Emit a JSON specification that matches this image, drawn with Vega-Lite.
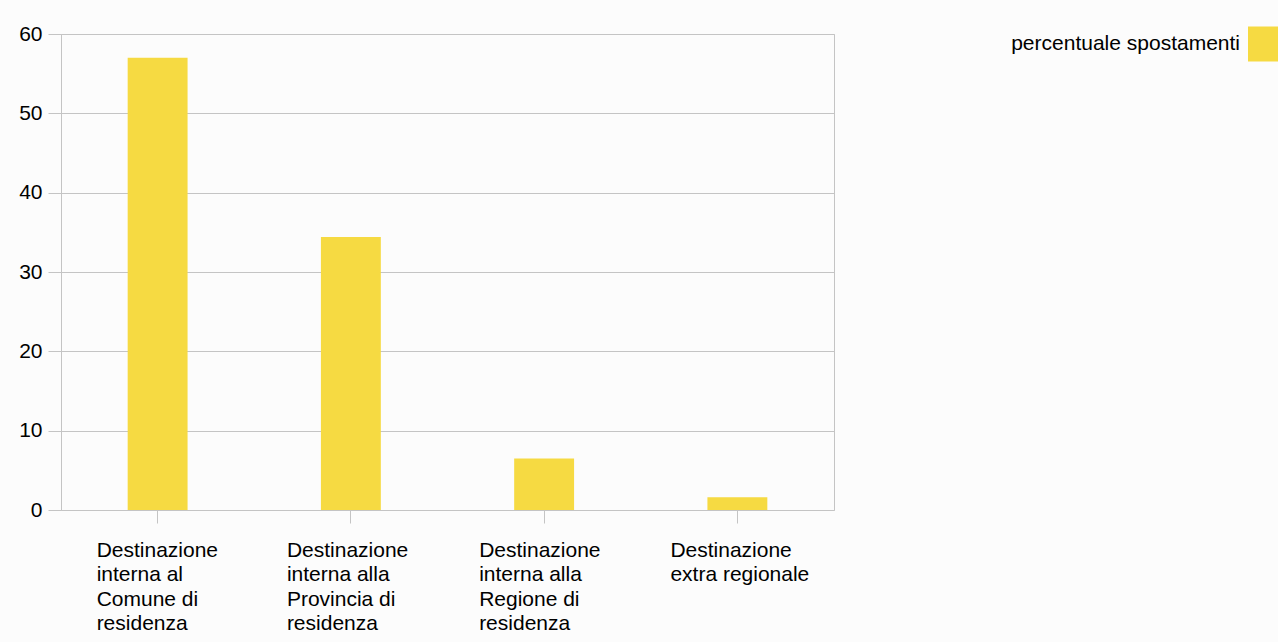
{
  "$schema": "https://vega.github.io/schema/vega-lite/v6.json",
  "autosize": "none",
  "width": 773,
  "height": 476,
  "padding": {"left": 61, "top": 34, "right": 444, "bottom": 132},
  "background": "#fcfcfc",
  "data": {
    "values": [
      {"destinazione": "Destinazione interna al Comune di residenza", "serie": "percentuale spostamenti", "percentuale": 57.0},
      {"destinazione": "Destinazione interna alla Provincia di residenza", "serie": "percentuale spostamenti", "percentuale": 34.4},
      {"destinazione": "Destinazione interna alla Regione di residenza", "serie": "percentuale spostamenti", "percentuale": 6.5},
      {"destinazione": "Destinazione extra regionale", "serie": "percentuale spostamenti", "percentuale": 1.6}
    ]
  },
  "config": {
    "font": "Liberation Sans",
    "view": {"stroke": "#c4c4c4", "strokeWidth": 1}
  },
  "mark": {"type": "bar", "width": {"band": 0.31}},
  "encoding": {
    "x": {
      "field": "destinazione",
      "type": "nominal",
      "sort": null,
      "scale": {"paddingInner": 0, "paddingOuter": 0},
      "axis": {
        "title": null,
        "labelAngle": 0,
        "labelAlign": "left",
        "labelBaseline": "top",
        "labelOffset": {"condition": [
          {"test": "datum.value == 'Destinazione extra regionale'", "value": -67},
          {"test": "datum.value == 'Destinazione interna alla Regione di residenza'", "value": -65},
          {"test": "datum.value == 'Destinazione interna alla Provincia di residenza'", "value": -64}
        ], "value": -61},
        "labelPadding": 16,
        "labelFontSize": 21,
        "labelLineHeight": 24.5,
        "labelColor": "#000000",
        "labelLimit": 400,
        "labelExpr": "datum.value == 'Destinazione interna al Comune di residenza' ? ['Destinazione','interna al','Comune di','residenza'] : datum.value == 'Destinazione interna alla Provincia di residenza' ? ['Destinazione','interna alla','Provincia di','residenza'] : datum.value == 'Destinazione interna alla Regione di residenza' ? ['Destinazione','interna alla','Regione di','residenza'] : ['Destinazione','extra regionale']",
        "tickSize": 13,
        "tickColor": "#c4c4c4",
        "domain": false,
        "grid": false
      }
    },
    "y": {
      "field": "percentuale",
      "type": "quantitative",
      "scale": {"domain": [0, 60], "nice": false},
      "axis": {
        "title": null,
        "values": [0, 10, 20, 30, 40, 50, 60],
        "labelFontSize": 21,
        "labelColor": "#000000",
        "labelPadding": 6,
        "tickSize": 13,
        "tickColor": "#c4c4c4",
        "gridColor": "#c4c4c4",
        "domainColor": "#c4c4c4"
      }
    },
    "color": {
      "field": "serie",
      "type": "nominal",
      "scale": {"range": ["#f6da42"]},
      "legend": {
        "title": null,
        "orient": "none",
        "legendX": 1187,
        "legendY": -5,
        "padding": 0,
        "symbolType": "M-1,-1.17H1V1.17H-1Z",
        "symbolSize": 900,
        "symbolStrokeWidth": 0,
        "symbolOpacity": 1,
        "labelAlign": "right",
        "labelOffset": -38,
        "labelFontSize": 21,
        "labelColor": "#000000",
        "labelLimit": 400
      }
    }
  }
}
